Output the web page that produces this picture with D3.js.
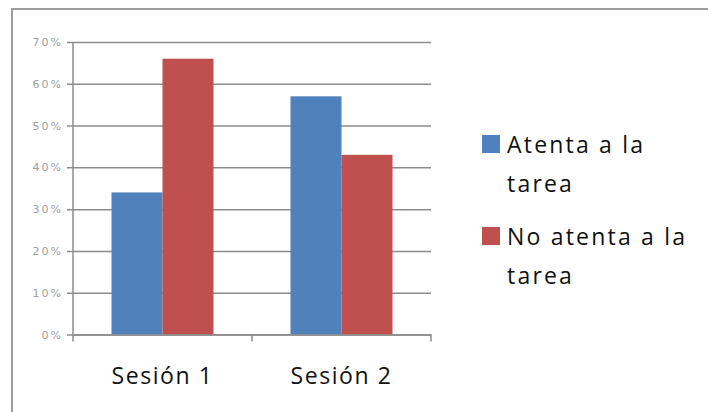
<!DOCTYPE html>
<html>
<head>
<meta charset="utf-8">
<script src="https://cdn.jsdelivr.net/npm/d3@7"></script>
<style>
  html, body { margin: 0; padding: 0; background: #fff; }
  svg { display: block; }
</style>
</head>
<body>
<svg id="chart" width="708" height="412"></svg>
<script>
// Session categories, series names and their shares
const sessions = ["Sesión 1", "Sesión 2"];
const seriesNames = ["Atenta a la tarea", "No atenta a la tarea"];
const legendLines = [["Atenta a la", "tarea"], ["No atenta a la", "tarea"]];
const atenta = [0.34, 0.57];
const noAtenta = [0.66, 0.43];
const yTicks = [0, 0.1, 0.2, 0.3, 0.4, 0.5, 0.6, 0.7];
const colors = ["#4F81BD", "#C0504D"];

const rows = sessions.map((s, i) => ({ session: s, values: [atenta[i], noAtenta[i]] }));

const svg = d3.select("#chart");
const plot = { left: 73, right: 431, top: 42, bottom: 334.5 };

// outer frame of the chart area
svg.append("rect")
  .attr("x", 12).attr("y", 9)
  .attr("width", 720).attr("height", 420)
  .attr("fill", "none")
  .attr("stroke", "#9e9e9e")
  .attr("stroke-width", 2);

const x0 = d3.scaleBand().domain(sessions).range([plot.left, plot.right]).padding(0);
const x1 = d3.scaleBand().domain(d3.range(seriesNames.length))
  .range([0, x0.bandwidth()]).paddingInner(0).paddingOuter(0.755);
const y = d3.scaleLinear().domain([0, 0.7]).range([plot.bottom, plot.top]);

// horizontal gridlines + y labels
const yAxis = d3.axisLeft(y)
  .tickValues(yTicks)
  .tickFormat(d3.format(".0%"))
  .tickSize(-(plot.right - plot.left))
  .tickPadding(10);

const gy = svg.append("g")
  .attr("transform", `translate(${plot.left},0)`)
  .call(yAxis);
gy.select(".domain").remove();
gy.selectAll(".tick line")
  .attr("x1", -6)
  .attr("stroke", "#8c8c8c")
  .attr("stroke-width", 1.5);
gy.selectAll(".tick text")
  .attr("fill", "#a0a0a0")
  .style("font-family", "'DejaVu Sans', sans-serif")
  .style("font-size", "11px")
  .style("letter-spacing", "2px");

// vertical axis line
svg.append("line")
  .attr("x1", plot.left).attr("x2", plot.left)
  .attr("y1", plot.top).attr("y2", plot.bottom)
  .attr("stroke", "#8c8c8c").attr("stroke-width", 1.5);

// bars
svg.append("g").selectAll("g")
  .data(rows)
  .join("g")
  .attr("transform", d => `translate(${x0(d.session)},0)`)
  .selectAll("rect")
  .data(d => d.values.map((v, k) => ({ k, v })))
  .join("rect")
  .attr("x", d => x1(d.k))
  .attr("width", x1.bandwidth())
  .attr("y", d => y(d.v))
  .attr("height", d => y(0) - y(d.v))
  .attr("fill", d => colors[d.k]);

// category axis
const xAxis = d3.axisBottom(x0).tickSize(0).tickPadding(33);
const gx = svg.append("g")
  .attr("transform", `translate(0,${plot.bottom})`)
  .call(xAxis);
gx.select(".domain").attr("stroke", "#8c8c8c").attr("stroke-width", 1.5);
gx.selectAll(".tick text")
  .attr("fill", "#111")
  .style("font-family", "'Open Sans', sans-serif")
  .style("font-size", "23px")
  .style("letter-spacing", "1.6px");

// category boundary ticks
const boundaries = [plot.left, ...sessions.map(s => x0(s) + x0.bandwidth())];
svg.append("g").selectAll("line")
  .data(boundaries)
  .join("line")
  .attr("x1", d => d).attr("x2", d => d)
  .attr("y1", plot.bottom).attr("y2", plot.bottom + 7)
  .attr("stroke", "#8c8c8c").attr("stroke-width", 1.5);

// legend
const legend = svg.append("g").attr("transform", "translate(482,135)");
const entry = legend.selectAll("g")
  .data(seriesNames)
  .join("g")
  .attr("transform", (d, i) => `translate(0,${i * 92})`);
entry.append("rect")
  .attr("width", 18).attr("height", 18)
  .attr("fill", (d, i) => colors[i]);
entry.append("text")
  .attr("x", 25)
  .attr("fill", "#111")
  .style("font-family", "'Open Sans', sans-serif")
  .style("font-size", "23px")
  .style("letter-spacing", "2.2px")
  .selectAll("tspan")
  .data((d, i) => legendLines[i])
  .join("tspan")
  .attr("x", 25)
  .attr("y", (d, j) => 18 + j * 39)
  .text(d => d);
</script>
</body>
</html>
